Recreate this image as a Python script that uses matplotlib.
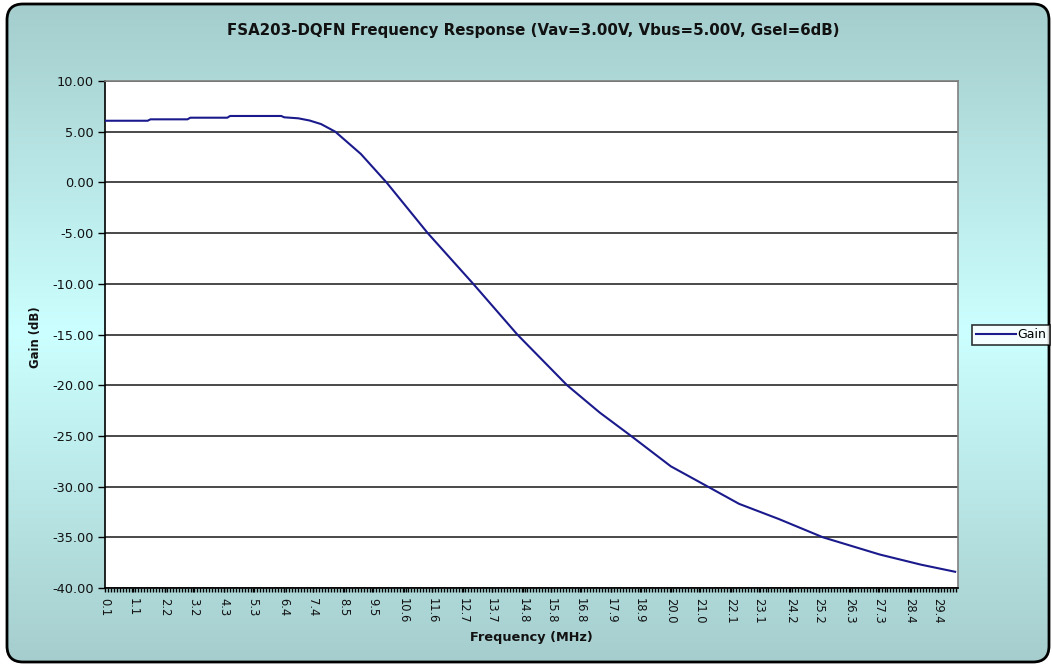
import numpy as np
import matplotlib
matplotlib.use("Agg")
import matplotlib.pyplot as plt
from matplotlib.patches import FancyBboxPatch
from matplotlib.ticker import FixedLocator, FuncFormatter

plt.rcParams['font.family'] = ['DejaVu Sans']

# ---- data ----
freq_mhz = [0.1, 1.6, 1.7, 3.0, 3.1, 4.4, 4.5, 6.3, 6.4, 6.9, 7.3, 7.7, 8.2,
            9.1, 10.0, 11.45, 13.05, 14.6, 16.35, 17.5, 18.6, 20.0, 21.3,
            22.4, 23.8, 25.35, 27.35, 28.8, 30.0]
gain_db = [6.08, 6.08, 6.22, 6.22, 6.38, 6.38, 6.55, 6.55, 6.42, 6.32, 6.1,
           5.75, 5.0, 2.8, 0.0, -5.0, -10.0, -15.0, -20.0, -22.7, -25.0,
           -28.0, -30.0, -31.7, -33.2, -35.0, -36.7, -37.7, -38.4]

x_tick_labels = ['0.1', '1.1', '2.2', '3.2', '4.3', '5.3', '6.4', '7.4', '8.5',
                 '9.5', '10.6', '11.6', '12.7', '13.7', '14.8', '15.8', '16.8',
                 '17.9', '18.9', '20.0', '21.0', '22.1', '23.1', '24.2', '25.2',
                 '26.3', '27.3', '28.4', '29.4']
y_ticks = [10, 5, 0, -5, -10, -15, -20, -25, -30, -35, -40]

title = 'FSA203-DQFN Frequency Response (Vav=3.00V, Vbus=5.00V, Gsel=6dB)'

W, H = 1052, 664
fig = plt.figure(figsize=(W / 100, H / 100), dpi=100)
fig.patch.set_facecolor('white')

# ---- background: rounded box with vertical gradient ----
bg = fig.add_axes([0, 0, 1, 1], zorder=0)
bg.set_xlim(0, W)
bg.set_ylim(H, 0)
bg.axis('off')
top_c = np.array([164, 204, 204]) / 255
mid_c = np.array([204, 255, 255]) / 255
bot_c = np.array([166, 205, 205]) / 255
t = np.linspace(0, 1, 400)
grad = np.zeros((400, 1, 3))
for i, v in enumerate(t):
    if v < 0.5:
        a = v / 0.5
        grad[i, 0] = top_c * (1 - a) + mid_c * a
    else:
        a = (v - 0.5) / 0.5
        grad[i, 0] = mid_c * (1 - a) + bot_c * a
box = FancyBboxPatch((7, 4), 1042, 658, boxstyle="round,pad=0,rounding_size=16",
                     facecolor='none', edgecolor='black', linewidth=2, zorder=3)
bg.add_patch(box)
im = bg.imshow(grad, extent=(0, W, H, 0), aspect='auto', zorder=1)
im.set_clip_path(box)

# ---- main axes ----
ax = fig.add_axes([105 / W, 1 - 588 / H, (958 - 105) / W, (588 - 81) / H], zorder=2)
ax.set_facecolor('white')
ax.plot(freq_mhz, gain_db, color='#1a1a8c', linewidth=1.5, label='Gain', zorder=3)

ax.set_xlim(0.1, 30.1)
ax.set_ylim(-40, 10)
ax.yaxis.set_major_locator(FixedLocator(y_ticks))
ax.yaxis.set_major_formatter(FuncFormatter(lambda v, p: f'{v:.2f}'))
ax.grid(axis='y', color='#2a2a2a', linewidth=1.2, zorder=1)
ax.set_axisbelow(True)

x_pos = [float(s) for s in x_tick_labels]
ax.set_xticks(x_pos)
ax.set_xticklabels(x_tick_labels, rotation=-90)
ax.set_xticks(np.arange(0.1, 30.1, 0.10464), minor=True)

ax.tick_params(axis='y', which='major', direction='out', length=5, width=1,
               labelsize=9.3, pad=3, colors='black', labelcolor='#111111')
ax.tick_params(axis='x', which='both', direction='out', length=3, width=1,
               labelsize=8.3, pad=4, labelcolor='#111111')

for s in ['left', 'bottom']:
    ax.spines[s].set_color('black')
    ax.spines[s].set_linewidth(1.2)
for s in ['top', 'right']:
    ax.spines[s].set_color('#808080')
    ax.spines[s].set_linewidth(1.2)

fig.text(533 / W, 1 - 31 / H, title, ha='center', va='center',
         fontsize=10.8, fontweight='bold', color='#111111')
fig.text(35 / W, 1 - 337 / H, 'Gain (dB)', ha='center', va='center',
         rotation=90, fontsize=8.4, fontweight='bold', color='#111111')
fig.text(531 / W, 1 - 638 / H, 'Frequency (MHz)', ha='center', va='center',
         fontsize=9.3, fontweight='bold', color='#111111')

leg = fig.legend(handles=ax.get_lines(), labels=['Gain'], loc='center left',
                 bbox_to_anchor=(972 / W, 1 - 335 / H), frameon=True,
                 fancybox=False, fontsize=9, handlelength=3.2,
                 handletextpad=0.15, borderpad=0.3, borderaxespad=0)
leg.get_frame().set_edgecolor('black')
leg.get_frame().set_linewidth(1.2)
leg.get_frame().set_facecolor('white')
leg.set_zorder(5)

fig.savefig('out.png', dpi=100)
